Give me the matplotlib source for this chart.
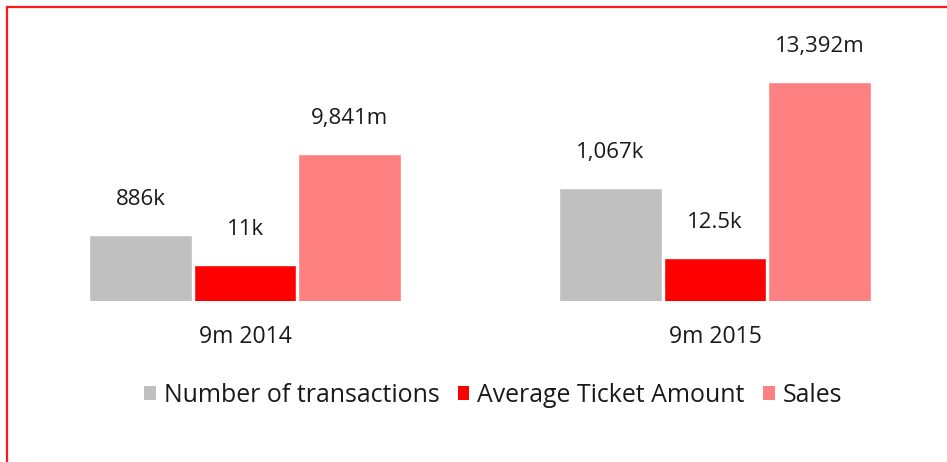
import matplotlib.pyplot as plt
from matplotlib.lines import Line2D
from matplotlib.patches import Patch

periods = ["9m 2014", "9m 2015"]
series = ["Number of transactions", "Average Ticket Amount", "Sales"]
transactions = [886, 1067]
avg_ticket = [11, 12.5]
sales = [9841, 13392]
labels_tx = ["886k", "1,067k"]
labels_ticket = ["11k", "12.5k"]
labels_sales = ["9,841m", "13,392m"]

colors = ["#c0c0c0", "#ff0000", "#ff8080"]
# each series sits on its own (offset) value scale, as in the original slide
limits = [(632, 1637), (3.29, 59.2), (2592, 15462)]

plt.rcParams['font.family'] = ['Open Sans', 'DejaVu Sans']

fig = plt.figure(figsize=(9.47, 4.62), dpi=100)
rect = [0, 1 - 301 / 462, 1, 261 / 462]
ax = fig.add_axes(rect)
axes = [ax, ax.twinx(), ax.twinx()]

w = 0.218
step = 0.2225
data = [transactions, avg_ticket, sales]
texts = [labels_tx, labels_ticket, labels_sales]
for i, a in enumerate(axes):
	xs = [p + (i - 1) * step for p in range(len(periods))]
	bars = a.bar(xs, data[i], width=w, color=colors[i], edgecolor="white", linewidth=1)
	a.set_ylim(*limits[i])
	a.set_xlim(-0.5213, 1.4936)
	for b, t in zip(bars, texts[i]):
		a.annotate(t, (b.get_x() + b.get_width() / 2, b.get_height()),
			xytext=(0, 21.5), textcoords="offset points",
			ha="center", va="baseline", fontsize=16, color="#1a1a1a")
	a.axis("off")

for j, p in enumerate(periods):
	ax.annotate(p, (j, limits[0][0]), xytext=(0, -30), textcoords="offset points",
		ha="center", va="baseline", fontsize=16.6, color="#1a1a1a")

handles = [Patch(facecolor=c, edgecolor="none") for c in colors]
fig.legend(handles, series, loc="center", bbox_to_anchor=(0.5206, 1 - 395 / 462),
	ncol=3, frameon=False, fontsize=17.9, handlelength=0.48, handleheight=0.48,
	handletextpad=0.32, columnspacing=0.72, labelcolor="#1a1a1a")

# red frame on top and left
fig.add_artist(Line2D([6.5 / 947, 6.5 / 947], [0, 1 - 7 / 462], color="#ff1a1a", linewidth=1.6))
fig.add_artist(Line2D([6.5 / 947, 1], [1 - 7 / 462, 1 - 7 / 462], color="#ff1a1a", linewidth=1.6))

fig.savefig("out.png", dpi=100)
